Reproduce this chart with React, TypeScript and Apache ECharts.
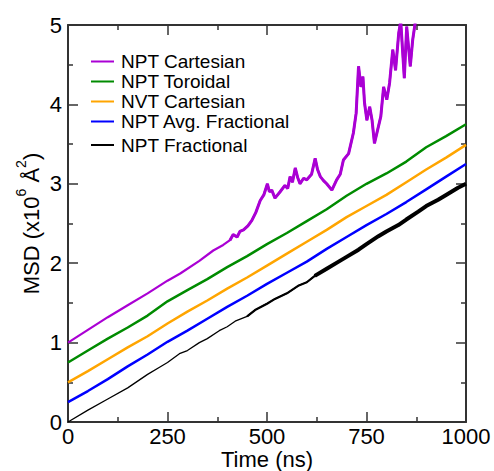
import React, { useEffect, useRef } from "react";
import * as echarts from "echarts";

// Time grid (ns) for the smooth series
const timeGrid = [0, 50, 100, 150, 200, 250, 300, 350, 400, 450, 500, 550, 600, 650, 700, 750, 800, 850, 900, 950, 1000];

// NPT Toroidal (green)
const toroidal = [0.75, 0.9, 1.05, 1.19, 1.34, 1.52, 1.66, 1.8, 1.95, 2.09, 2.24, 2.38, 2.53, 2.68, 2.85, 3.0, 3.13, 3.28, 3.46, 3.6, 3.75];
// NVT Cartesian (orange)
const nvtCartesian = [0.5, 0.64, 0.79, 0.94, 1.08, 1.24, 1.39, 1.53, 1.68, 1.82, 1.97, 2.12, 2.27, 2.42, 2.58, 2.72, 2.86, 3.02, 3.18, 3.33, 3.49];
// NPT Avg. Fractional (blue)
const avgFractional = [0.25, 0.39, 0.54, 0.7, 0.85, 1.01, 1.15, 1.3, 1.45, 1.59, 1.74, 1.88, 2.02, 2.18, 2.33, 2.48, 2.62, 2.77, 2.93, 3.09, 3.25];

// NPT Fractional (black)
const fracT = [0, 50, 100, 150, 200, 230, 250, 280, 300, 330, 350, 380, 400, 420, 450, 470, 500, 520, 550, 580, 600, 620, 650, 680, 700, 730, 750, 780, 800, 830, 850, 880, 900, 930, 950, 980, 1000];
const fracV = [0, 0.15, 0.29, 0.43, 0.6, 0.69, 0.75, 0.86, 0.9, 1.0, 1.05, 1.15, 1.2, 1.27, 1.33, 1.41, 1.49, 1.55, 1.62, 1.72, 1.76, 1.84, 1.93, 2.02, 2.08, 2.17, 2.24, 2.34, 2.4, 2.48, 2.55, 2.65, 2.72, 2.8, 2.86, 2.95, 3.0];

// NPT Cartesian (purple)
const cartT = [0, 50, 100, 150, 200, 250, 282, 330, 365, 390, 407, 415, 425, 432, 441, 452, 462, 472, 483, 492, 501, 506, 512, 520, 533, 545, 552, 558, 564, 571, 577, 583, 592, 600, 612, 621, 627, 634, 642, 650, 663, 675, 684, 692, 705, 717, 724, 730, 736, 741, 745, 751, 758, 764, 770, 778, 786, 793, 801, 808, 816, 823, 831, 836, 845, 851, 860, 866, 873, 880];
const cartV = [1.0, 1.16, 1.32, 1.47, 1.62, 1.78, 1.87, 2.03, 2.16, 2.23, 2.29, 2.36, 2.33, 2.4, 2.42, 2.47, 2.54, 2.64, 2.79, 2.86, 3.0, 2.9, 2.92, 2.82, 2.9, 2.98, 2.94, 3.09, 3.02, 3.2, 3.08, 3.0, 3.07, 3.05, 3.12, 3.32, 3.18, 3.09, 3.04, 3.0, 2.92, 3.05, 3.12, 3.3, 3.38, 3.64, 3.89, 4.48, 4.22, 4.35, 4.02, 3.8, 3.97, 3.8, 3.51, 3.68, 3.85, 4.22, 4.06, 4.27, 4.69, 4.43, 4.9, 5.05, 4.33, 4.98, 4.48, 4.81, 5.05, 5.4];

const xTicks = [0, 250, 500, 750, 1000];
const yTicks = [0, 1, 2, 3, 4, 5];

const FONT = "Liberation Sans, Arial, Helvetica, sans-serif";
const AXIS_COLOR = "#333";

export default function App() {
  const ref = useRef<HTMLDivElement>(null);

  useEffect(() => {
    if (!ref.current) return;
    const chart = echarts.init(ref.current, undefined, { renderer: "svg" });

    const pairs = (xs: number[], ys: number[]) => xs.map((x, i) => [x, ys[i]]);
    const fracPairs = pairs(fracT, fracV);
    const cartPairs = pairs(cartT, cartV);

    const baseAxis = {
      axisLine: { show: true, onZero: false, lineStyle: { color: AXIS_COLOR, width: 2 } },
      axisTick: { show: true, inside: true, length: 10, lineStyle: { color: AXIS_COLOR, width: 1.5 } },
      minorTick: { show: true, splitNumber: 2, length: 5, lineStyle: { color: AXIS_COLOR, width: 1.5 } },
      splitLine: { show: false },
      minorSplitLine: { show: false },
    };

    const legendText = { fontSize: 19, color: "#000", fontFamily: FONT, padding: [0, 0, 0, 2] };

    chart.setOption({
      animation: false,
      backgroundColor: "#fff",
      textStyle: { fontFamily: FONT },
      grid: { left: 68, right: 28, top: 25, bottom: 49, containLabel: false, outerBoundsMode: "none" },
      legend: [
        {
          data: ["NPT Cartesian", "NPT Toroidal", "NVT Cartesian", "NPT Avg. Fractional"],
          orient: "vertical",
          left: 91,
          top: 52,
          padding: 0,
          itemGap: 1,
          itemWidth: 23,
          itemHeight: 2,
          icon: "rect",
          selectedMode: false,
          textStyle: legendText,
        },
        {
          data: ["NPT Fractional"],
          orient: "vertical",
          left: 91,
          top: 135.5,
          padding: 0,
          itemWidth: 23,
          itemHeight: 2,
          icon: "rect",
          selectedMode: false,
          textStyle: legendText,
        },
      ],
      xAxis: [
        {
          ...baseAxis,
          type: "value",
          position: "bottom",
          min: xTicks[0],
          max: xTicks[xTicks.length - 1],
          interval: xTicks[1] - xTicks[0],
          axisLabel: { fontSize: 22, lineHeight: 22, color: "#000", margin: 3, fontFamily: FONT, formatter: (v: number) => String(v) },
          name: "Time (ns)",
          nameLocation: "middle",
          nameGap: 26,
          nameMoveOverlap: false,
          nameTextStyle: { fontSize: 22, color: "#000", fontFamily: FONT, lineHeight: 22 },
        },
        {
          ...baseAxis,
          type: "value",
          position: "top",
          min: xTicks[0],
          max: xTicks[xTicks.length - 1],
          interval: xTicks[1] - xTicks[0],
          axisLabel: { show: false },
        },
      ],
      yAxis: [
        {
          ...baseAxis,
          type: "value",
          position: "left",
          min: yTicks[0],
          max: yTicks[yTicks.length - 1],
          interval: yTicks[1] - yTicks[0],
          axisLabel: { fontSize: 22, color: "#000", margin: 6, fontFamily: FONT, formatter: (v: number) => String(v) },
          name: "{n|MSD (x10}{s|6}{n| Å}{s|2}{n|)}",
          nameLocation: "middle",
          nameGap: 26,
          nameMoveOverlap: false,
          nameTextStyle: {
            color: "#000",
            fontFamily: FONT,
            rich: {
              n: { fontSize: 22, fontFamily: FONT, color: "#000", verticalAlign: "bottom", lineHeight: 28 },
              s: { fontSize: 14, fontFamily: FONT, color: "#000", verticalAlign: "top", lineHeight: 14 },
            },
          },
        },
        {
          ...baseAxis,
          type: "value",
          position: "right",
          min: yTicks[0],
          max: yTicks[yTicks.length - 1],
          interval: yTicks[1] - yTicks[0],
          axisLabel: { show: false },
        },
      ],
      series: [
        {
          name: "NPT Fractional",
          type: "line",
          data: fracPairs,
          showSymbol: false,
          color: "#000",
          lineStyle: { width: 1.3, color: "#000" },
          z: 2,
        },
        {
          name: "fracMid",
          type: "line",
          data: fracPairs.filter((p) => p[0] >= 450 && p[0] <= 650),
          showSymbol: false,
          color: "#000",
          lineStyle: { width: 2.2, color: "#000" },
          z: 2,
        },
        {
          name: "fracLate",
          type: "line",
          data: fracPairs.filter((p) => p[0] >= 620),
          showSymbol: false,
          color: "#000",
          lineStyle: { width: 4, color: "#000" },
          z: 2,
        },
        {
          name: "NPT Avg. Fractional",
          type: "line",
          data: pairs(timeGrid, avgFractional),
          showSymbol: false,
          color: "#0000ff",
          lineStyle: { width: 2.5, color: "#0000ff" },
          z: 3,
        },
        {
          name: "NVT Cartesian",
          type: "line",
          data: pairs(timeGrid, nvtCartesian),
          showSymbol: false,
          color: "#ffa500",
          lineStyle: { width: 2.5, color: "#ffa500" },
          z: 3,
        },
        {
          name: "NPT Toroidal",
          type: "line",
          data: pairs(timeGrid, toroidal),
          showSymbol: false,
          color: "#008b00",
          lineStyle: { width: 2.5, color: "#008b00" },
          z: 3,
        },
        {
          name: "NPT Cartesian",
          type: "line",
          data: cartPairs,
          showSymbol: false,
          color: "#aa00d4",
          lineStyle: { width: 2.2, color: "#aa00d4" },
          z: 4,
        },
        {
          name: "cartLate",
          type: "line",
          data: cartPairs.filter((p) => p[0] >= 400),
          showSymbol: false,
          color: "#aa00d4",
          lineStyle: { width: 3, color: "#aa00d4" },
          z: 4,
        },
      ],
    });

    return () => chart.dispose();
  }, []);

  return (
    <div
      ref={ref}
      style={{ position: "fixed", left: 0, top: 0, width: 494, height: 471, background: "#fff" }}
    />
  );
}
